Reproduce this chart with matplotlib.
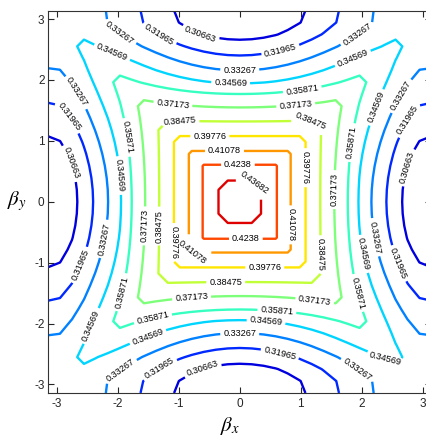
import numpy as np
import matplotlib
matplotlib.use("Agg")
import matplotlib.pyplot as plt

plt.rcParams["font.family"] = ["Liberation Sans", "DejaVu Sans"]
plt.rcParams["mathtext.fontset"] = "stix"
plt.rcParams["axes.unicode_minus"] = False

# Contour levels shown on the map
levels = [0.30663, 0.31965, 0.33267, 0.34569, 0.35871, 0.37173,
          0.38475, 0.39776, 0.41078, 0.4238, 0.43682]

# Sample nodes along one Bloch wavenumber, 0 .. pi in steps of pi/16
node_count = 17
# Value along the beta_x = 0 line at each node (beta_y = node)
axis_profile = [0.4498, 0.4427, 0.4351, 0.4249, 0.4134, 0.4029, 0.3925,
                0.3817, 0.3705, 0.3589, 0.3443, 0.3325, 0.3220, 0.3120,
                0.3023, 0.2958, 0.2936]
# Rise of the value from the axis out to the zone edge, for each node row
edge_rise = [0.0, 0.0, 0.0, 0.0, 0.0, 0.0, 0.0, 0.003, 0.010, 0.018,
             0.027, 0.033, 0.037, 0.040, 0.0449, 0.0472, 0.0494]
# Normalised shape of that rise across the row
edge_shape = [0.0, 0.0096, 0.0381, 0.0843, 0.1464, 0.2222, 0.3087, 0.4025,
              0.5, 0.5975, 0.6913, 0.7778, 0.8536, 0.9157, 0.9619, 0.9904, 1.0]

# Where the contour labels sit (beta_x, beta_y)
label_spots = [
    (-0.66, 2.72), (-1.31, 2.77), (0.67, 2.48), (-1.97, 2.77), (0.0, 2.16),
    (1.93, 2.74), (-2.11, 2.41), (-0.15, 1.92), (1.85, 2.36), (1.03, 1.80),
    (-1.10, 1.56), (0.92, 1.56), (-0.98, 1.31), (1.16, 1.33), (-0.49, 1.07),
    (-0.25, 0.82), (-0.03, 0.59), (0.21, 0.28), (0.10, -0.59),
    (0.80, -0.38), (1.10, 0.56), (1.28, -0.87), (1.52, 0.20), (1.77, 0.98),
    (2.21, 1.56), (2.62, 1.75), (2.75, 1.34), (2.72, 0.57), (2.18, -0.59),
    (1.97, -0.87), (1.89, -1.51), (2.52, -1.05),
    (0.41, -1.08), (-0.23, -1.31), (1.23, -1.61), (0.61, -1.77), (0.43, -1.98),
    (0.0, -2.18), (0.66, -2.48), (2.41, -2.54), (1.93, -2.75), (-0.61, -2.75),
    (-1.31, -2.75), (-1.93, -2.80), (-1.52, -2.18), (-1.43, -1.89), (-0.79, -1.56),
    (-0.80, -0.89), (-1.05, -0.67), (-1.26, -0.40), (-1.48, -0.40), (-1.92, -1.49),
    (-2.41, -2.05), (-2.18, -0.62), (-2.59, -1.05), (-2.67, 1.80), (-2.82, 1.38),
    (-2.79, 0.62), (-1.98, 0.43), (-1.89, 1.05),
]

# Build the full symmetric grid over [-pi, pi] x [-pi, pi]
P = np.asarray(axis_profile)
Q = np.asarray(edge_rise)
S = np.asarray(edge_shape)
idx = np.abs(np.arange(-(node_count - 1), node_count))
k_hi = np.maximum.outer(idx, idx)
k_lo = np.minimum.outer(idx, idx)
Z = P[k_hi] + Q[k_hi] * S[k_lo]
beta = np.linspace(-np.pi, np.pi, 2 * node_count - 1)
BX, BY = np.meshgrid(beta, beta)

step = levels[1] - levels[0]
vmin, vmax = levels[0] - step, levels[-1] + step

W, H = 427, 438
fig = plt.figure(figsize=(W / 100, H / 100), dpi=100)
ax = fig.add_axes([48 / W, 45 / H, 383.5 / W, 382.5 / H])

cs = ax.contour(BX, BY, Z, levels=levels, cmap="jet", vmin=vmin, vmax=vmax,
                linewidths=1.7)
ax.clabel(cs, levels, manual=label_spots, inline=True, inline_spacing=3,
          fontsize=6.6, colors="k", fmt=lambda v: f"{v:.5g}")

ax.set_xlim(-np.pi, np.pi)
ax.set_ylim(-np.pi, np.pi)
ticks = [-3, -2, -1, 0, 1, 2, 3]
ax.set_xticks(ticks)
ax.set_yticks(ticks)
ax.tick_params(direction="in", top=True, right=True, length=4, width=0.8,
               labelsize=8.5, colors="0.15")
ax.tick_params(axis="x", pad=3.5)
ax.tick_params(axis="y", pad=2.5)
for sp in ax.spines.values():
    sp.set_color("0.2")
    sp.set_linewidth(0.8)

fig.text(17 / W, 1 - 201 / H, r"$\beta_y$", fontsize=15, ha="center", va="center")
fig.text(230 / W, 1 - 426 / H, r"$\beta_x$", fontsize=15, ha="center", va="center")

fig.savefig("out.png", dpi=100)
